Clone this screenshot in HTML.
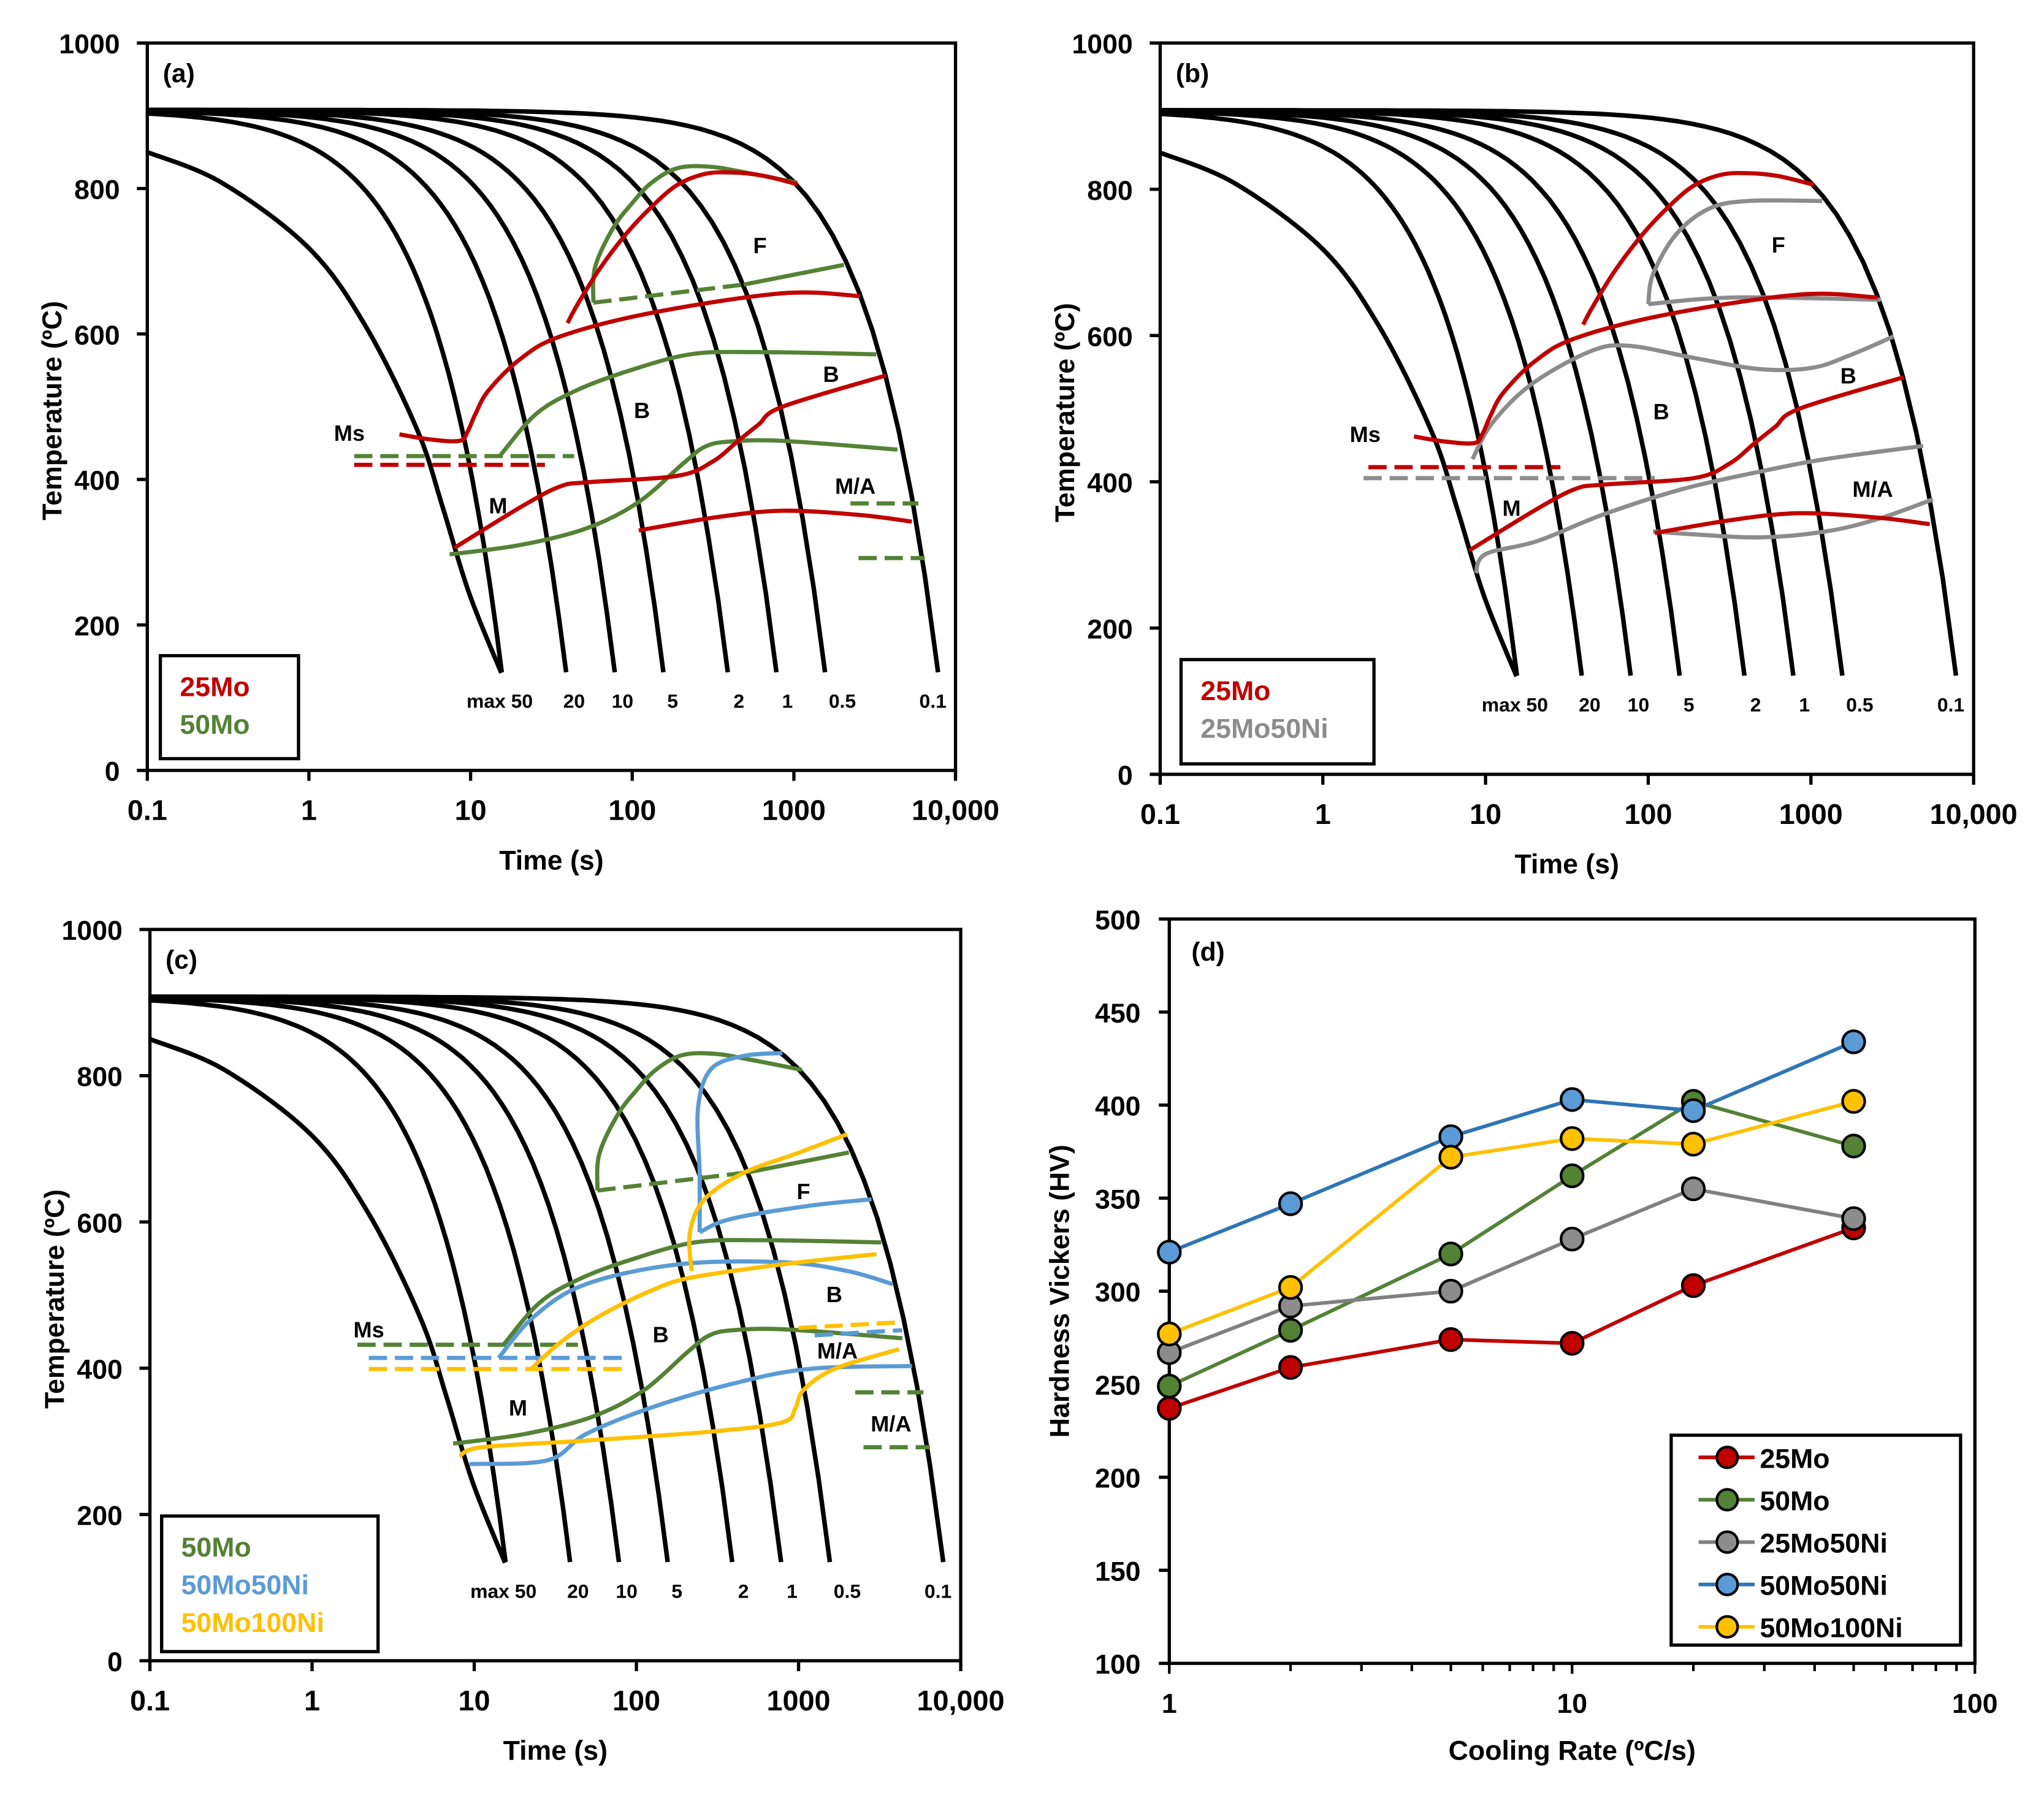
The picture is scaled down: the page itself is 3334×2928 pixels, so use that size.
<!DOCTYPE html>
<html><head><meta charset="utf-8"><style>
html,body{margin:0;padding:0;background:#fff}
svg{display:block}
text{font-family:"Liberation Sans",Arial,sans-serif;font-weight:bold}
</style></head><body>
<svg id="fig" width="3334" height="2928" viewBox="0 0 1568 1377" preserveAspectRatio="none" xmlns="http://www.w3.org/2000/svg"></svg>
<script>
// ---------- data ----------
const coolingRates = [50,20,10,5,2,1,0.5,0.1];
const rateLabels = ["max 50","20","10","5","2","1","0.5","0.1"];
const rateLabelT = [1.18,1.64,1.94,2.25,2.66,2.96,3.30,3.86]; // log-time of label centres
const maxCurve = [[-1,850],[-0.54,808],[0,718],[0.35,611],[0.67,468],[0.83,360],[0.99,244],[1.19,134]];
// series curves: [log10(time s), temperature C]
const mo25_F = [[1.60,615],[1.66,640],[1.80,690],[1.96,737],[2.12,775],[2.28,805],[2.45,820],[2.62,822],[2.80,818],[3.02,806]];
const mo25_FB = [[0.56,462],[0.75,455],[0.93,453],[0.98,465],[1.03,490],[1.11,522],[1.31,566],[1.56,597],[2.12,629],[2.93,656],[3.41,652]];
const mo25_B = [[0.90,306],[1.31,362],[1.55,390],[1.72,396],[2.28,405],[2.50,425],[2.65,452],[2.78,475],[2.93,500],[3.57,543]];
const mo25_MA = [[2.04,330],[2.52,348],[2.93,357],[3.41,351],[3.73,342]];
const mo25_Ms = [[0.28,420],[1.46,420]];
const mo50_F = [[1.76,643],[1.77,692],[1.88,745],[2.0,780],[2.12,808],[2.28,828],[2.48,830],[2.70,822],[3.02,808]];
const mo50_Fdash = [[1.76,643],[2.69,668]];
const mo50_FB = [[2.69,668],[3.31,695]];
const mo50_B = [[1.18,432],[1.40,489],[1.64,521],[1.96,548],[2.36,572],[2.77,575],[3.51,572]];
const mo50_low = [[0.87,297],[1.31,310],[1.72,333],[2.04,369],[2.32,423],[2.45,445],[2.60,452],[2.93,453],[3.64,441]];
const mo50_Ms = [[0.28,432],[1.64,432]];
const mo50_MA1 = [[3.35,367],[3.77,367]];
const mo50_MA2 = [[3.40,292],[3.81,292]];
const ni25_F = [[2.00,643],[2.03,684],[2.17,738],[2.37,773],[2.61,784],[3.07,784]];
const ni25_FB = [[2.00,643],[2.53,652],[3.43,649]];
const ni25_B = [[0.92,431],[1.04,480],[1.28,533],[1.64,578],[1.88,586],[2.29,569],[2.69,554],[3.01,556],[3.25,574],[3.51,599]];
const ni25_low = [[0.94,275],[1.00,301],[1.32,319],[1.72,355],[2.21,390],[2.69,414],[3.09,431],[3.69,449]];
const ni25_MA = [[2.03,332],[2.29,328],[2.69,324],[3.09,332],[3.41,349],[3.75,376]];
const ni25_Ms = [[0.25,405],[2.04,405]];
const b50_F = [[2.39,586],[2.39,667],[2.38,756],[2.46,809],[2.66,827],[2.90,831]];
const b50_FB = [[2.39,586],[2.58,604],[3.06,622],[3.45,631]];
const b50_B = [[1.15,414],[1.37,471],[1.69,515],[2.26,542],[2.90,545],[3.30,533],[3.58,515]];
const b50_low = [[0.97,269],[1.45,274],[1.69,310],[2.09,346],[2.58,378],[3.06,399],[3.70,403]];
const b50_Ms = [[0.35,414],[1.93,414]];
const b50_MAd = [[3.10,445],[3.64,452]];
const y100_F = [[2.34,533],[2.33,586],[2.42,631],[2.66,667],[2.98,693],[3.30,720]];
const y100_B = [[1.35,399],[1.53,435],[1.77,471],[2.09,506],[2.34,524],[2.90,542],[3.48,556]];
const y100_low = [[0.91,280],[1.05,292],[1.69,301],[2.50,314],[2.90,326],[2.98,345],[3.03,370],[3.22,399],[3.62,426]];
const y100_Ms = [[0.35,399],[1.93,399]];
const y100_MAd = [[3.00,455],[3.64,463]];
// hardness data
const cRates = [1,2,5,10,20,50];
const hv25Mo = [237,259,274,272,303,334];
const hv50Mo = [249,279,320,362,402,378];
const hv25Mo50Ni = [267,292,300,328,355,339];
const hv50Mo50Ni = [321,347,383,403,397,434];
const hv50Mo100Ni = [277,302,372,382,379,402];
const hvTicks = [100,150,200,250,300,350,400,450,500];
const tTicks = [0,200,400,600,800,1000];
const timeTickLabels = ["0.1","1","10","100","1000","10,000"];

const RED="#c00000",GREEN="#548235",GRAY="#8c8c8c",BLUE="#5b9bd5",YEL="#ffc000";
const svg=document.getElementById('fig');
const NS="http://www.w3.org/2000/svg";
function mk(tag,attrs,parent){const e=document.createElementNS(NS,tag);for(const k in attrs)e.setAttribute(k,attrs[k]);(parent||svg).appendChild(e);return e;}
function txt(s,x,y,size,anchor,fill,parent){const t=mk('text',{x:x,y:y,'font-size':size,'text-anchor':anchor||'middle',fill:fill||'#000'},parent);t.textContent=s;return t;}
function smooth(pts){ if(pts.length<3){return 'M'+pts.map(p=>p[0].toFixed(1)+','+p[1].toFixed(1)).join(' L');}
 let d='M'+pts[0][0].toFixed(1)+','+pts[0][1].toFixed(1);
 for(let i=0;i<pts.length-1;i++){const p0=pts[i-1]||pts[i],p1=pts[i],p2=pts[i+1],p3=pts[i+2]||p2;
  const c1=[p1[0]+(p2[0]-p0[0])/6,p1[1]+(p2[1]-p0[1])/6],c2=[p2[0]-(p3[0]-p1[0])/6,p2[1]-(p3[1]-p1[1])/6];
  d+=` C${c1[0].toFixed(1)},${c1[1].toFixed(1)} ${c2[0].toFixed(1)},${c2[1].toFixed(1)} ${p2[0].toFixed(1)},${p2[1].toFixed(1)}`;}
 return d;}

function ccPanel(P){
 const g=mk('g',{});
 
 
 const xs=lt=>P.L+(lt+1)*(P.R-P.L)/5;
 const ys=T=>P.B-T*(P.B-P.T)/1000;
 const fr=mk('rect',{x:P.L,y:P.T,width:P.R-P.L,height:P.B-P.T,fill:'none',stroke:'#000','stroke-width':2.5},g);
 
 
 tTicks.forEach(v=>{mk('line',{x1:P.L-8,x2:P.L,y1:ys(v),y2:ys(v),stroke:'#000','stroke-width':2.5},g);
  const t=txt(String(v),P.L-21,ys(v)+8,21,'end','#000',g);
  
  });
 timeTickLabels.forEach((s,i)=>{mk('line',{x1:xs(i-1),x2:xs(i-1),y1:P.B,y2:P.B+8,stroke:'#000','stroke-width':2.5},g);
  const t=txt(s,xs(i-1),P.B+38,22,'middle','#000',g);
  
  });
 const xt=txt('Time (s)',(P.L+P.R)/2,P.B+76,21,'middle','#000',g);
 
 
 const yt=txt('Temperature (ºC)',0,0,21,'middle','#000',g);
 yt.setAttribute('transform',`translate(${P.L-66},${(P.T+P.B)/2+3}) rotate(-90)`);
 
 
 const pl=txt(P.label,P.L+12,P.T+30,20,'start','#000',g);
 
 
 const mp=mk('path',{d:smooth(maxCurve.map(p=>[xs(p[0]),ys(p[1])])),fill:'none',stroke:'#000','stroke-width':3.5},g);
 
 
 coolingRates.forEach((r,i)=>{
  const tend=780/r;const pts=[];
  for(let k=0;k<=60;k++){const lt=-1+(Math.log10(tend)+1)*k/60;const t=Math.pow(10,lt);pts.push([xs(lt),ys(908-773*t/tend)]);}
  const p=mk('path',{d:'M'+pts.map(q=>q[0].toFixed(1)+','+q[1].toFixed(1)).join(' L'),fill:'none',stroke:'#000','stroke-width':3.5},g);
  
  
  const lab=txt(rateLabels[i],xs(rateLabelT[i]),ys(86),15,'middle','#000',g);
  
  
 });
 P.series.forEach(s=>{
  const p=mk('path',{d:smooth(s.d.map(q=>[xs(q[0]),ys(q[1])])),fill:'none',stroke:s.c,'stroke-width':3.2},g);
  if(s.dash)p.setAttribute('stroke-dasharray','14 6');
  
  
 });
 P.regions.forEach(r=>{const t=txt(r[0],xs(r[1]),ys(r[2])+6,17,'middle','#000',g);
  
  });
 const lb=mk('rect',{x:P.lg[0],y:P.lg[1],width:P.lg[2],height:P.lg[3],fill:'#fff',stroke:'#000','stroke-width':2.5},g);
 
 
 P.legend.forEach((e,i)=>{const t=txt(e[0],P.lg[0]+15,P.lg[1]+31+i*29,21,'start',e[1],g);
  
  });
}
const redSeries=[{d:mo25_F,c:RED,n:'25mo-ferrite-start'},{d:mo25_FB,c:RED,n:'25mo-bainite-start'},{d:mo25_B,c:RED,n:'25mo-bainite-finish'},{d:mo25_MA,c:RED,n:'25mo-ma'},{d:mo25_Ms,c:RED,n:'25mo-ms',dash:1}];
const greenSeries=[{d:mo50_F,c:GREEN,n:'50mo-ferrite-start'},{d:mo50_Fdash,c:GREEN,n:'50mo-ferrite-dash',dash:1},{d:mo50_FB,c:GREEN,n:'50mo-ferrite-finish'},{d:mo50_B,c:GREEN,n:'50mo-bainite-start'},{d:mo50_low,c:GREEN,n:'50mo-bainite-finish'},{d:mo50_Ms,c:GREEN,n:'50mo-ms',dash:1},{d:mo50_MA1,c:GREEN,n:'50mo-ma-1',dash:1},{d:mo50_MA2,c:GREEN,n:'50mo-ma-2',dash:1}];
ccPanel({name:'panel-a',L:113,R:733,T:33,B:591,label:'(a)',series:greenSeries.concat(redSeries),
 regions:[['F',2.79,722],['B',2.06,495],['B',3.23,545],['M',1.17,364],['M/A',3.38,391],['Ms',0.25,464]],
 lg:[123,503,106,79],legend:[['25Mo',RED],['50Mo',GREEN]]});
ccPanel({name:'panel-b',L:890,R:1514,T:33,B:594,label:'(b)',series:[{d:ni25_F,c:GRAY,n:'25mo50ni-ferrite-start'},{d:ni25_FB,c:GRAY,n:'25mo50ni-ferrite-finish'},{d:ni25_B,c:GRAY,n:'25mo50ni-bainite-start'},{d:ni25_low,c:GRAY,n:'25mo50ni-bainite-finish'},{d:ni25_MA,c:GRAY,n:'25mo50ni-ma'},{d:ni25_Ms,c:GRAY,n:'25mo50ni-ms',dash:1}].concat(redSeries),
 regions:[['F',2.80,724],['B',2.08,496],['B',3.23,545],['M',1.16,364],['M/A',3.38,390],['Ms',0.26,465]],
 lg:[906,506,148,80],legend:[['25Mo',RED],['25Mo50Ni',GRAY]]});
ccPanel({name:'panel-c',L:115,R:737,T:713,B:1274,label:'(c)',series:greenSeries.concat([{d:b50_F,c:BLUE,n:'50mo50ni-ferrite-start'},{d:b50_FB,c:BLUE,n:'50mo50ni-ferrite-finish'},{d:b50_B,c:BLUE,n:'50mo50ni-bainite-start'},{d:b50_low,c:BLUE,n:'50mo50ni-bainite-finish'},{d:b50_Ms,c:BLUE,n:'50mo50ni-ms',dash:1},{d:b50_MAd,c:BLUE,n:'50mo50ni-ma-dash',dash:1},
 {d:y100_F,c:YEL,n:'50mo100ni-ferrite-start'},{d:y100_B,c:YEL,n:'50mo100ni-bainite-start'},{d:y100_low,c:YEL,n:'50mo100ni-bainite-finish'},{d:y100_Ms,c:YEL,n:'50mo100ni-ms',dash:1},{d:y100_MAd,c:YEL,n:'50mo100ni-ma-dash',dash:1}]),
 regions:[['F',3.03,642],['B',2.15,446],['B',3.22,501],['M',1.27,346],['M/A',3.24,424],['M/A',3.57,324],['Ms',0.35,453]],
 lg:[124,1163,166,104],legend:[['50Mo',GREEN],['50Mo50Ni',BLUE],['50Mo100Ni',YEL]]});

// ---------- panel d ----------
(function(){
 const P={L:897,R:1515,T:705,B:1276};
 const g=mk('g',{});
 
 
 const xs=v=>P.L+Math.log10(v)*(P.R-P.L)/2;
 const ys=v=>P.B-(v-100)*(P.B-P.T)/400;
 const fr=mk('rect',{x:P.L,y:P.T,width:P.R-P.L,height:P.B-P.T,fill:'none',stroke:'#000','stroke-width':2.5},g);
 
 
 hvTicks.forEach(v=>{mk('line',{x1:P.L-8,x2:P.L,y1:ys(v),y2:ys(v),stroke:'#000','stroke-width':2.5},g);
  const t=txt(String(v),P.L-22,ys(v)+8,21,'end','#000',g);
  
  });
 for(let d=1;d<=100;d*=10){for(let k=1;k<10;k++){const v=d*k;if(v>100)break;const maj=(k===1);
  mk('line',{x1:xs(v),x2:xs(v),y1:P.B,y2:P.B+(maj?8:6),stroke:'#000','stroke-width':2},g);
  if(maj){const t=txt(String(v),xs(v),P.B+38,21,'middle','#000',g);
   
   }}}
 const xt=txt('Cooling Rate (ºC/s)',(P.L+P.R)/2,P.B+74,21,'middle','#000',g);
 
 
 const yt=txt('Hardness Vickers (HV)',0,0,21,'middle','#000',g);
 yt.setAttribute('transform',`translate(${P.L-77},${(P.T+P.B)/2}) rotate(-90)`);
 
 
 const pl=txt('(d)',P.L+17,P.T+32,20,'start','#000',g);
 
 
 const series=[['25Mo',hv25Mo,'#c00000','#c00000'],['50Mo',hv50Mo,'#538135','#548235'],['25Mo50Ni',hv25Mo50Ni,'#808080','#8c8c8c'],['50Mo50Ni',hv50Mo50Ni,'#2e75b6','#5b9bd5'],['50Mo100Ni',hv50Mo100Ni,'#ffc000','#ffc000']];
 series.forEach(s=>{
  const pl=mk('polyline',{points:cRates.map((r,i)=>xs(r).toFixed(1)+','+ys(s[1][i]).toFixed(1)).join(' '),fill:'none',stroke:s[2],'stroke-width':2.8},g);
  
  
 });
 series.forEach(s=>{
  cRates.forEach((r,i)=>{const c=mk('circle',{cx:xs(r),cy:ys(s[1][i]),r:8.5,fill:s[3],stroke:'#000','stroke-width':2},g);
   
   });
 });
 const lb=mk('rect',{x:1282,y:1101,width:222,height:161,fill:'#fff',stroke:'#000','stroke-width':2.5},g);
 
 
 series.forEach((s,i)=>{const y=1118+i*32.5;
  const e=mk('g',{},g);
  
  
  mk('line',{x1:1303,x2:1346,y1:y,y2:y,stroke:s[2],'stroke-width':2.8},e);
  mk('circle',{cx:1325,cy:y,r:8,fill:s[3],stroke:'#000','stroke-width':2},e);
  txt(s[0],1350,y+8,21,'start','#000',e);
 });
})();
</script>
</body></html>
